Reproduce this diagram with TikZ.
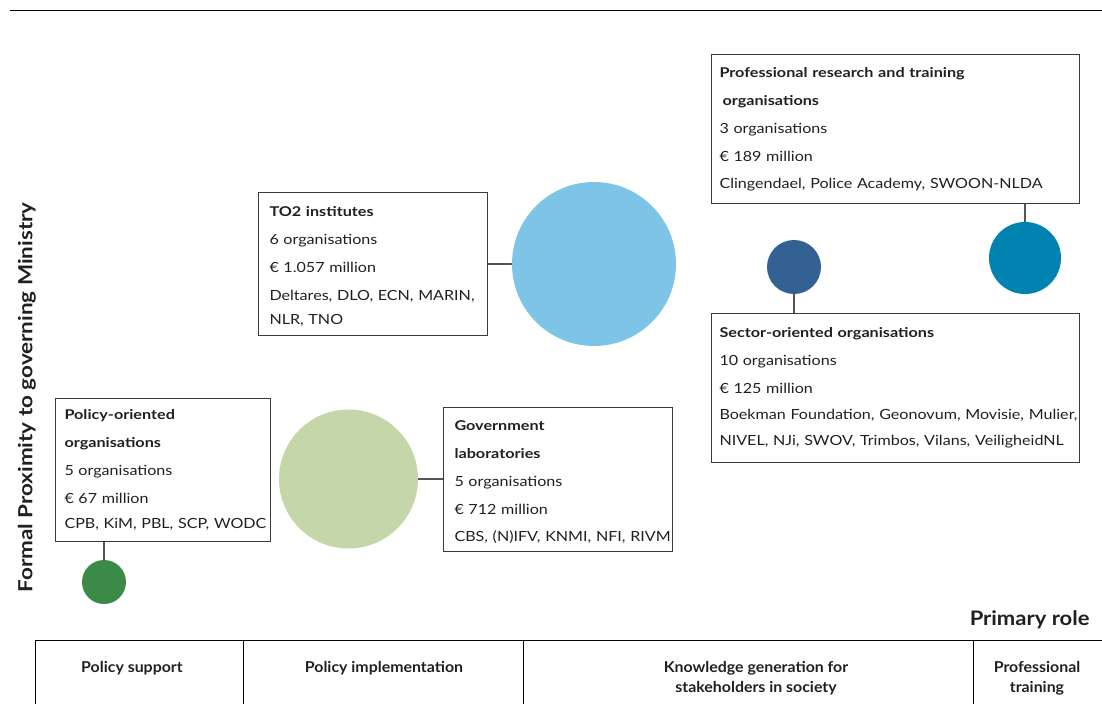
\documentclass[tikz,border=0pt]{standalone}
\usepackage{fontspec}
\setmainfont[FakeStretch=1.15]{Lato}
\newfontfamily\titlefam[FakeStretch=1.2]{Lato}
\newfontfamily\labfam[FakeStretch=1.06]{Lato}
\newfontfamily\rolefam[FakeStretch=1.1]{Lato}
\definecolor{txt}{HTML}{231F20}
\definecolor{boxgray}{HTML}{3A3A3A}
\definecolor{linegray}{HTML}{555555}
\definecolor{cLightBlue}{HTML}{7EC4E6}
\definecolor{cTeal}{HTML}{0083B0}
\definecolor{cDarkBlue}{HTML}{336194}
\definecolor{cLightGreen}{HTML}{C5D6A9}
\definecolor{cDarkGreen}{HTML}{3B8A48}
\tikzset{
  infobox/.style={draw=boxgray, line width=1pt, anchor=north west, inner xsep=11pt, inner ysep=0pt,
    align=left, text=txt, font=\fontsize{14}{28}\selectfont},
  bubble/.style={circle, inner sep=0pt, draw=none},
  conn/.style={draw=linegray, line width=1.2pt},
  collabel/.style={text=txt, align=center, font=\labfam\bfseries\fontsize{15}{20}\selectfont}
}
\newcommand{\ttlfont}{\titlefam\bfseries\fontsize{13.5}{28}\selectfont}
\newcommand{\oneline}[1]{\mbox{#1}}
\begin{document}
\begin{tikzpicture}[x=1pt,y=-1pt]
\useasboundingbox (0,0) rectangle (1102,704);
% top rule
\coordinate (tl) at (10,10);
\coordinate (tr) at (1102,10);
\draw[line width=1pt, black] (tl) -- (tr);

% y axis label
\node[rotate=90, text=txt, font=\bfseries\fontsize{19.5}{22}\selectfont] (ylab) at (27,397.5) {Formal Proximity to governing Ministry};

% TO2
\node[infobox, minimum width=229, minimum height=143, text width=207] (to2) at (258,192)
 {\oneline{\ttlfont\rule{0pt}{15pt}TO2 institutes}\\\oneline{6 organisations}\\\oneline{€ 1.057 million}\\\oneline{Deltares, DLO, ECN, MARIN,}\\[-4pt]\oneline{NLR, TNO}};
\node[bubble, fill=cLightBlue, minimum size=164] (to2c) at (594,264) {};
\draw[conn] (to2.east |- to2c) -- (to2c.west);

% Professional research
\node[infobox, inner xsep=8pt, minimum width=368, minimum height=149, text width=352] (prof) at (711,54)
 {\oneline{\ttlfont Professional research and training}\\\oneline{\ttlfont\hspace{3pt}organisations}\\\oneline{3 organisations}\\\oneline{€ 189 million}\\[-1pt]\oneline{Clingendael, Police Academy, SWOON-NLDA}};
\node[bubble, fill=cTeal, minimum size=72] (profc) at (1025,258) {};
\draw[conn] (prof.south -| profc) -- (profc.north);

% Sector-oriented
\node[bubble, fill=cDarkBlue, minimum size=54] (secc) at (794,267) {};
\node[infobox, inner xsep=8pt, minimum width=368, minimum height=149, text width=352] (sec) at (711,313)
 {\oneline{\ttlfont Sector-oriented organisations}\\\oneline{10 organisations}\\\oneline{€ 125 million}\\[-2pt]\oneline{Boekman Foundation, Geonovum, Movisie, Mulier,}\\[-2pt]\oneline{NIVEL, NJi, SWOV, Trimbos, Vilans, VeiligheidNL}};
\draw[conn] (secc.south) -- (sec.north -| secc);

% Policy-oriented
\node[infobox, inner xsep=9pt, minimum width=215, minimum height=143, text width=197] (pol) at (55,398)
 {\oneline{\ttlfont Policy-oriented}\\\oneline{\ttlfont organisations}\\\oneline{5 organisations}\\\oneline{€ 67 million}\\[-3pt]\oneline{CPB, KiM, PBL, SCP, WODC}};
\node[bubble, fill=cDarkGreen, minimum size=44] (polc) at (104,582) {};
\draw[conn] (pol.south -| polc) -- (polc.north);

% Government laboratories
\node[bubble, fill=cLightGreen, minimum size=139] (govc) at (348.5,479) {};
\node[infobox, minimum width=229, minimum height=144, text width=207] (gov) at (443,407)
 {\oneline{\ttlfont\rule{0pt}{16pt}Government}\\\oneline{\ttlfont laboratories}\\\oneline{5 organisations}\\\oneline{€ 712 million}\\[-1pt]\oneline{CBS, (N)IFV, KNMI, NFI, RIVM}};
\draw[conn] (govc.east) -- (gov.west |- govc);

% Primary role
\node[anchor=east, text=txt, font=\rolefam\bfseries\fontsize{20}{24}\selectfont] (prole) at (1093,620) {Primary role};

% table
\draw[line width=1pt, black] (35,640) -- (1102,640);
\foreach \xx in {35,243,523,973} \draw[line width=1pt, black] (\xx,640) -- (\xx,704);
\node[collabel] (c1) at (132,668) {Policy support};
\node[collabel] (c2) at (384,668) {Policy implementation};
\node[collabel] (c3) at (756,678) {Knowledge generation for\\stakeholders in society};
\node[collabel] (c4) at (1037,678) {Professional\\training};
\end{tikzpicture}
\end{document}
